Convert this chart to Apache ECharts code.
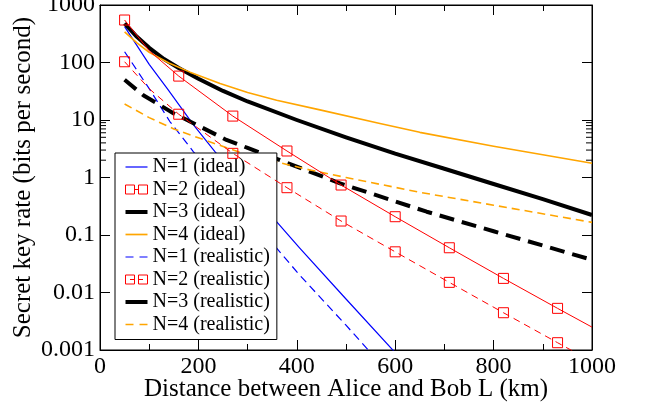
<!DOCTYPE html>
<html><head><meta charset="utf-8">
<script src="https://cdn.jsdelivr.net/npm/echarts@6/dist/echarts.min.js"></script>
<style>html,body{margin:0;padding:0;background:#fff}#c{width:649px;height:404px}</style>
</head><body><div id="c"></div>
<script>
// ---- tick labels ----
const xTickLabels = ['0','200','400','600','800','1000'];
const yTickLabels = ['0.001','0.01','0.1','1','10','100','1000'];
const decadeMinorTicks = [2,3,4,5,6,7,8,9];

// ---- N=1 ----
const n1IdealDist = [50, 100, 139, 190, 234, 300, 406, 500, 600];
const n1IdealRate = [420, 93, 33, 8.2, 2.8, 0.64, 0.059, 0.0077, 0.0009];
const n1RealDist  = [50, 102, 142, 190, 300, 406, 500, 550];
const n1RealRate  = [154, 33, 9.4, 2.8, 0.23, 0.02, 0.0027, 0.0009];

// ---- N=2 (marked: true = square marker drawn at that point) ----
const n2IdealDist = [50, 100, 160, 270, 380, 490, 600, 710, 820, 930, 1000];
const n2IdealRate = [548, 160, 58, 11.7, 2.89, 0.74, 0.208, 0.060, 0.0176, 0.0053, 0.0025];
const n2IdealMark = [true, false, true, true, true, true, true, true, true, true, false];
const n2RealDist  = [50, 100, 160, 270, 380, 490, 600, 710, 820, 930, 1000];
const n2RealRate  = [103, 35, 12.6, 2.63, 0.665, 0.175, 0.051, 0.015, 0.00445, 0.00134, 0.00063];
const n2RealMark  = [true, false, true, true, true, true, true, true, true, true, false];

// ---- N=3 ----
const n3IdealDist = [50, 75, 100, 130, 160, 200, 250, 300, 400, 500, 600, 700, 800, 900, 1000];
const n3IdealRate = [480, 280, 180, 115, 80, 52, 32, 21, 10, 5.0, 2.6, 1.42, 0.77, 0.42, 0.223];
const n3RealDist  = [50, 88, 150, 190, 257, 300, 400, 488, 600, 664, 800, 1000];
const n3RealRate  = [50, 27, 13, 8.8, 4.5, 3.27, 1.55, 0.79, 0.385, 0.254, 0.116, 0.037];

// ---- N=4 ----
const n4IdealDist = [50, 75, 100, 140, 183, 244, 300, 359, 447, 569, 650, 800, 1000];
const n4IdealRate = [340, 220, 150, 98, 68, 43, 30, 22, 15, 8.7, 6.1, 3.5, 1.77];
const n4RealDist  = [50, 100, 150, 203, 300, 427, 500, 650, 800, 1000];
const n4RealRate  = [19, 11, 7.0, 4.8, 2.46, 1.35, 1.0, 0.553, 0.33, 0.166];

const FONT = 'Liberation Serif';
const BLUE = '#0000ff', RED = '#ff0000', BLACK = '#000000', ORANGE = '#ffa500';

function pairs(xs, ys) { return xs.map((x, i) => [x, ys[i]]); }
function markedPairs(xs, ys, marks) {
  return xs.map((x, i) => marks[i] ? [x, ys[i]] : { value: [x, ys[i]], symbol: 'none' });
}

function lineSeries(name, data, color, width, dash) {
  return {
    name, type: 'line', data, showSymbol: false, symbol: 'none', smooth: false,
    lineStyle: { color, width, type: dash || 'solid', join: 'round' },
    itemStyle: { color },
    clip: true, animation: false, z: 3
  };
}
function redSeries(name, data, dash) {
  return {
    name, type: 'line', data, symbol: 'rect', symbolSize: 10, showSymbol: true, smooth: false,
    lineStyle: { color: RED, width: 1, type: dash || 'solid' },
    itemStyle: { color: 'rgba(0,0,0,0)', borderColor: RED, borderWidth: 1 },
    clip: true, animation: false, z: 4
  };
}

const series = [
  lineSeries('N=1 (ideal)', pairs(n1IdealDist, n1IdealRate), BLUE, 1.2, null),
  redSeries('N=2 (ideal)', markedPairs(n2IdealDist, n2IdealRate, n2IdealMark), null),
  lineSeries('N=3 (ideal)', pairs(n3IdealDist, n3IdealRate), BLACK, 4, null),
  lineSeries('N=4 (ideal)', pairs(n4IdealDist, n4IdealRate), ORANGE, 1.6, null),
  lineSeries('N=1 (realistic)', pairs(n1RealDist, n1RealRate), BLUE, 1.2, [8, 5]),
  redSeries('N=2 (realistic)', markedPairs(n2RealDist, n2RealRate, n2RealMark), [7, 5]),
  lineSeries('N=3 (realistic)', pairs(n3RealDist, n3RealRate), BLACK, 4, [15, 8]),
  lineSeries('N=4 (realistic)', pairs(n4RealDist, n4RealRate), ORANGE, 1.6, [8, 5]),
  {
    type: 'custom', name: 'minorTicks', silent: true, animation: false, z: 5,
    data: decadeMinorTicks.map(v => [0, v]),
    renderItem: function (params, api) {
      const cs = params.coordSys;
      const y = api.coord([0, api.value(1)])[1];
      return {
        type: 'group',
        children: [
          { type: 'line', shape: { x1: cs.x, y1: y, x2: cs.x + 6, y2: y }, style: { stroke: '#000', lineWidth: 1 } },
          { type: 'line', shape: { x1: cs.x + cs.width - 6, y1: y, x2: cs.x + cs.width, y2: y }, style: { stroke: '#000', lineWidth: 1 } }
        ]
      };
    }
  }
];

function legendItem(name, icon, color) {
  return { name, icon, itemStyle: { color: color, borderWidth: 0 } };
}
const solidThin = 'path://M0,0H22V1.2H0Z';
const solidMid = 'path://M0,0H22V1.7H0Z';
const solidThick = 'path://M0,0H22V4H0Z';
const dashThin = 'path://M0,0H8V1.2H0ZM14,0H22V1.2H14Z';
const dashMid = 'path://M0,0H8V1.7H0ZM14,0H22V1.7H14Z';
const redIdealIcon = 'path://M0,0H9V9H0ZM13,0H22V9H13ZM9,4.5H13';
const redRealIcon = 'path://M0,0H9V9H0ZM13,0H22V9H13ZM4.5,4.5H9M13,4.5H17.5';
const redLegendStyle = { color: 'rgba(0,0,0,0)', borderColor: RED, borderWidth: 1 };

const option = {
  backgroundColor: '#fff',
  animation: false,
  grid: { left: 100, top: 5, right: 57, bottom: 54, outerBoundsMode: 'none', containLabel: false,
    show: true, borderColor: '#000', borderWidth: 1, backgroundColor: 'transparent' },
  legend: {
    left: 115, top: 153, orient: 'vertical',
    backgroundColor: '#fff', borderColor: '#000', borderWidth: 1, borderRadius: 0,
    padding: [4, 7, 5, 10],
    itemWidth: 22, itemHeight: 12, itemGap: 2.5,
    textStyle: { fontFamily: FONT, fontSize: 20, color: '#000', lineHeight: 20 },
    data: [
      legendItem('N=1 (ideal)', solidThin, BLUE),
      { name: 'N=2 (ideal)', icon: redIdealIcon, itemStyle: redLegendStyle },
      legendItem('N=3 (ideal)', solidThick, BLACK),
      legendItem('N=4 (ideal)', solidMid, ORANGE),
      legendItem('N=1 (realistic)', dashThin, BLUE),
      { name: 'N=2 (realistic)', icon: redRealIcon, itemStyle: redLegendStyle },
      legendItem('N=3 (realistic)', solidThick, BLACK),
      legendItem('N=4 (realistic)', dashMid, ORANGE)
    ],
    selectedMode: false
  },
  xAxis: [{
    type: 'value', min: 0, max: 1000, interval: 200, position: 'bottom',
    axisLine: { show: true, onZero: false, lineStyle: { color: '#000', width: 1 } },
    axisTick: { show: true, inside: true, length: 10, lineStyle: { color: '#000' } },
    minorTick: { show: true, splitNumber: 2, length: 6, lineStyle: { color: '#000' } },
    splitLine: { show: false }, minorSplitLine: { show: false },
    axisLabel: { color: '#000', fontFamily: FONT, fontSize: 24, margin: 5,
      formatter: v => xTickLabels[Math.round(v / 200)] },
    name: 'Distance between Alice and Bob L (km)', nameLocation: 'middle', nameGap: 27,
    nameMoveOverlap: false,
    nameTextStyle: { color: '#000', fontFamily: FONT, fontSize: 25 }
  }, {
    type: 'value', min: 0, max: 1000, interval: 200, position: 'top',
    axisLine: { show: true, onZero: false, lineStyle: { color: '#000', width: 1 } },
    axisTick: { show: true, inside: true, length: 10, lineStyle: { color: '#000' } },
    minorTick: { show: true, splitNumber: 2, length: 6, lineStyle: { color: '#000' } },
    splitLine: { show: false }, axisLabel: { show: false }
  }],
  yAxis: [{
    type: 'log', logBase: 10, min: 0.001, max: 1000, splitNumber: 6, position: 'left',
    axisLine: { show: true, onZero: false, lineStyle: { color: '#000', width: 1 } },
    axisTick: { show: true, inside: true, length: 10, lineStyle: { color: '#000' } },
    splitLine: { show: false },
    axisLabel: { color: '#000', fontFamily: FONT, fontSize: 24, margin: 5,
      formatter: v => yTickLabels[Math.round(Math.log10(v)) + 3] },
    name: 'Secret key rate (bits per second)', nameLocation: 'middle', nameGap: 64, nameRotate: 90,
    nameMoveOverlap: false,
    nameTextStyle: { color: '#000', fontFamily: FONT, fontSize: 25 }
  }, {
    type: 'log', logBase: 10, min: 0.001, max: 1000, splitNumber: 6, position: 'right',
    axisLine: { show: true, onZero: false, lineStyle: { color: '#000', width: 1 } },
    axisTick: { show: true, inside: true, length: 10, lineStyle: { color: '#000' } },
    splitLine: { show: false }, axisLabel: { show: false }
  }],
  series
};

const chart = echarts.init(document.getElementById('c'), null, { renderer: 'canvas' });
chart.setOption(option);
</script>
</body></html>
